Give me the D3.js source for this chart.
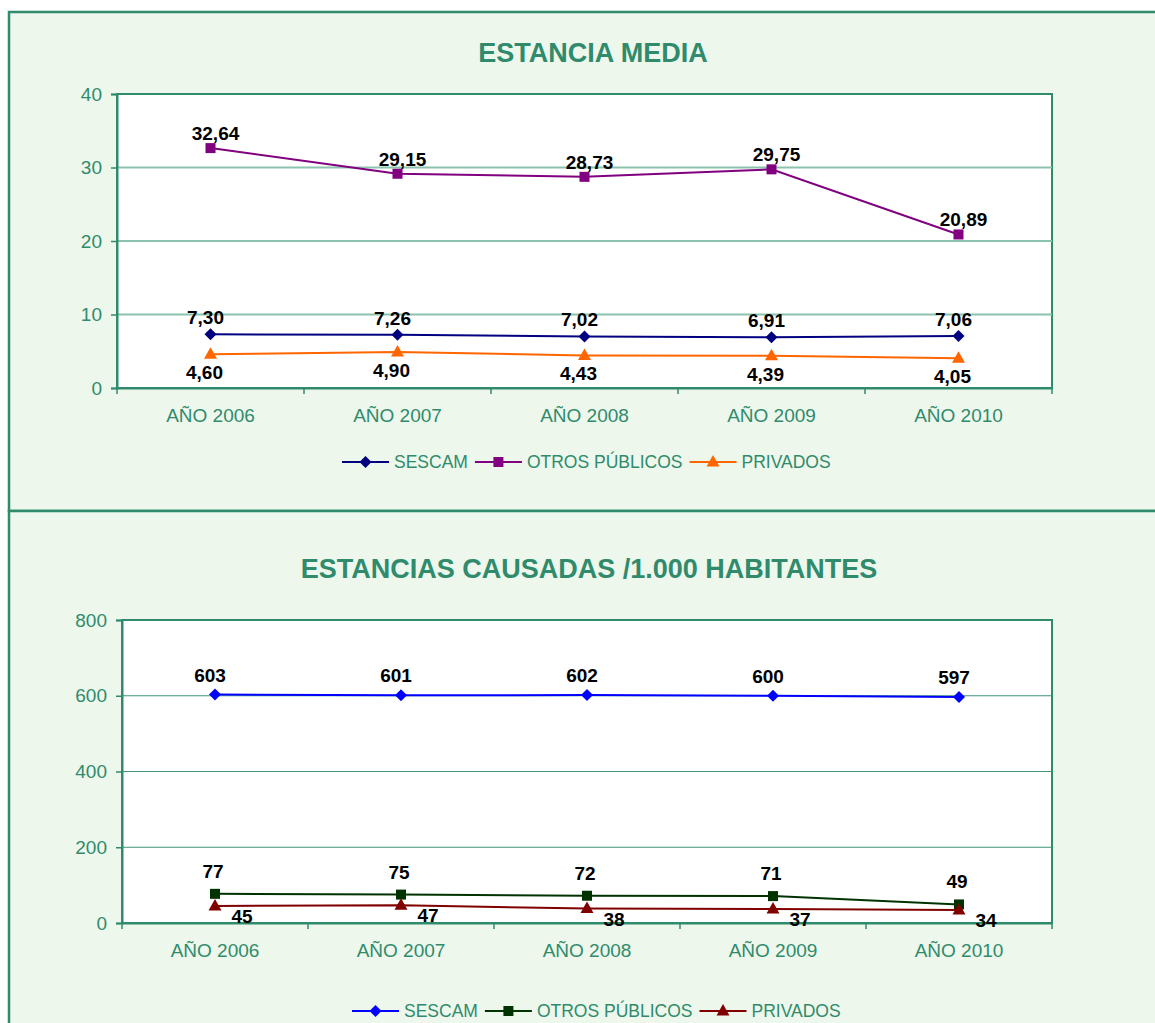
<!DOCTYPE html>
<html>
<head>
<meta charset="utf-8">
<script src="https://cdn.jsdelivr.net/npm/d3@7"></script>
<style>
  body { margin: 0; background: #fff; }
  svg text { font-family: "Liberation Sans", Arial, sans-serif; }
</style>
</head>
<body>
<div id="chart"></div>
<script>
// ---- data ----
var years = ["AÑO 2006", "AÑO 2007", "AÑO 2008", "AÑO 2009", "AÑO 2010"];
var seriesNames = ["SESCAM", "OTROS PÚBLICOS", "PRIVADOS"];

// estancia media
var mediaSescam = [7.30, 7.26, 7.02, 6.91, 7.06];
var mediaOtros = [32.64, 29.15, 28.73, 29.75, 20.89];
var mediaPrivados = [4.60, 4.90, 4.43, 4.39, 4.05];
var mediaTicks = [0, 10, 20, 30, 40];

// estancias causadas / 1.000 habitantes
var causadasSescam = [603, 601, 602, 600, 597];
var causadasOtros = [77, 75, 72, 71, 49];
var causadasPrivados = [45, 47, 38, 37, 34];
var causadasTicks = [0, 200, 400, 600, 800];

var teal = "#2F8B6C",
    panelFill = "#EDF7EC";

var W = 1155, H = 1023;

var svg = d3.select("#chart")
    .append("svg")
    .attr("width", W)
    .attr("height", H);

// panels
svg.append("rect")
    .attr("x", 9).attr("y", 12)
    .attr("width", W + 20).attr("height", 499)
    .attr("fill", panelFill)
    .attr("stroke", teal).attr("stroke-width", 2.5);
svg.append("rect")
    .attr("x", 9).attr("y", 511)
    .attr("width", W + 20).attr("height", 600)
    .attr("fill", panelFill)
    .attr("stroke", teal).attr("stroke-width", 2.5);

var esFormat = d3.formatLocale({decimal: ",", thousands: ".", grouping: [3], currency: ["", "€"]});

function markerPath(shape) {
    if (shape === "diamond") return "M0,-6L6,0L0,6L-6,0Z";
    if (shape === "square") return "M-5,-5H5V5H-5Z";
    return "M0,-7L6.5,4.5L-6.5,4.5Z";
}

function drawChart(cfg) {
    var g = svg.append("g");

    var x = d3.scaleBand().domain(years).range([cfg.left, cfg.right]);
    var y = d3.scaleLinear().domain([0, cfg.ticks[cfg.ticks.length - 1]]).range([cfg.bottom, cfg.top]);
    var cx = function (d, i) { return x(years[i]) + x.bandwidth() / 2; };

    // plot area
    g.append("rect")
        .attr("x", cfg.left).attr("y", cfg.top)
        .attr("width", cfg.right - cfg.left).attr("height", cfg.bottom - cfg.top)
        .attr("fill", "#fff")
        .attr("stroke", teal).attr("stroke-width", 2);

    // gridlines
    g.append("g")
        .selectAll("line")
        .data(cfg.ticks.slice(1, -1))
        .enter().append("line")
        .attr("x1", cfg.left).attr("x2", cfg.right)
        .attr("y1", function (d) { return y(d); })
        .attr("y2", function (d) { return y(d); })
        .attr("stroke", cfg.gridColor)
        .attr("stroke-width", cfg.gridWidth);

    // y axis
    var yAxis = g.append("g")
        .attr("transform", "translate(" + cfg.left + ",0)")
        .call(d3.axisLeft(y).tickValues(cfg.ticks).tickSize(6).tickPadding(9));
    yAxis.select(".domain").attr("stroke", teal).attr("stroke-width", 2);
    yAxis.selectAll(".tick line").attr("stroke", teal).attr("stroke-width", 1.5);
    yAxis.selectAll(".tick text")
        .attr("fill", teal)
        .attr("font-size", "19px")
        .attr("font-family", "Liberation Sans, Arial, sans-serif");

    // x axis: ticks on category boundaries
    var xAxis = g.append("g")
        .attr("transform", "translate(0," + cfg.bottom + ")")
        .call(d3.axisBottom(x).tickSize(0).tickPadding(21));
    xAxis.select(".domain").attr("stroke", teal).attr("stroke-width", 2);
    xAxis.selectAll(".tick text")
        .attr("fill", teal)
        .attr("font-size", "19px")
        .attr("font-family", "Liberation Sans, Arial, sans-serif");
    xAxis.selectAll(".boundary")
        .data(d3.range(years.length + 1))
        .enter().append("line")
        .attr("class", "boundary")
        .attr("x1", function (i) { return cfg.left + i * x.step(); })
        .attr("x2", function (i) { return cfg.left + i * x.step(); })
        .attr("y1", 0).attr("y2", 6)
        .attr("stroke", teal).attr("stroke-width", 1.5);

    // title
    g.append("text")
        .attr("x", cfg.titleX).attr("y", cfg.titleY)
        .attr("text-anchor", "middle")
        .attr("font-size", "27px")
        .attr("font-weight", "bold")
        .attr("fill", teal)
        .text(cfg.title);

    var line = d3.line()
        .x(cx)
        .y(function (d) { return y(d); });

    cfg.series.forEach(function (s) {
        var sg = g.append("g");
        sg.append("path")
            .datum(s.values)
            .attr("d", line)
            .attr("fill", "none")
            .attr("stroke", s.color)
            .attr("stroke-width", 2);
        sg.selectAll(".mk")
            .data(s.values)
            .enter().append("path")
            .attr("class", "mk")
            .attr("d", markerPath(s.shape))
            .attr("transform", function (d, i) { return "translate(" + cx(d, i) + "," + y(d) + ")"; })
            .attr("fill", s.color);
        sg.selectAll(".lbl")
            .data(s.values)
            .enter().append("text")
            .attr("class", "lbl")
            .attr("x", function (d, i) { return cx(d, i) + s.labelDx; })
            .attr("y", function (d) { return y(d) + s.labelDy; })
            .attr("text-anchor", "middle")
            .attr("font-size", "19px")
            .attr("font-weight", "bold")
            .attr("fill", "#000")
            .text(function (d) { return esFormat.format(cfg.fmt)(d); });
    });

    // legend
    var lg = g.append("g");
    var lx = cfg.legendX;
    cfg.series.forEach(function (s, i) {
        lg.append("line")
            .attr("x1", lx).attr("x2", lx + 47)
            .attr("y1", cfg.legendY).attr("y2", cfg.legendY)
            .attr("stroke", s.color).attr("stroke-width", 2);
        lg.append("path")
            .attr("d", markerPath(s.shape))
            .attr("transform", "translate(" + (lx + 23.5) + "," + cfg.legendY + ")")
            .attr("fill", s.color);
        var t = lg.append("text")
            .attr("x", lx + 52)
            .attr("y", cfg.legendY + 6)
            .attr("font-size", "17.5px")
            .attr("fill", teal)
            .text(seriesNames[i]);
        lx += 52 + t.node().getComputedTextLength() + 7;
    });
}

drawChart({
    title: "ESTANCIA MEDIA",
    titleX: 593, titleY: 62,
    left: 117, right: 1052, top: 94, bottom: 388,
    ticks: mediaTicks,
    gridColor: "#8CC3AE", gridWidth: 2,
    fmt: ".2f",
    legendX: 342, legendY: 462,
    series: [
        {values: mediaSescam, color: "#000080", shape: "diamond", labelDx: -5, labelDy: -10},
        {values: mediaOtros, color: "#800080", shape: "square", labelDx: 5, labelDy: -8},
        {values: mediaPrivados, color: "#FF6600", shape: "triangle", labelDx: -6, labelDy: 25}
    ]
});

drawChart({
    title: "ESTANCIAS CAUSADAS /1.000 HABITANTES",
    titleX: 589, titleY: 578,
    left: 122, right: 1052, top: 620, bottom: 923,
    ticks: causadasTicks,
    gridColor: "#3E9677", gridWidth: 1,
    fmt: "d",
    legendX: 352, legendY: 1011,
    series: [
        {values: causadasSescam, color: "#0000FF", shape: "diamond", labelDx: -5, labelDy: -13},
        {values: causadasOtros, color: "#003300", shape: "square", labelDx: -2, labelDy: -16},
        {values: causadasPrivados, color: "#800000", shape: "triangle", labelDx: 27, labelDy: 17}
    ]
});
</script>
</body>
</html>
